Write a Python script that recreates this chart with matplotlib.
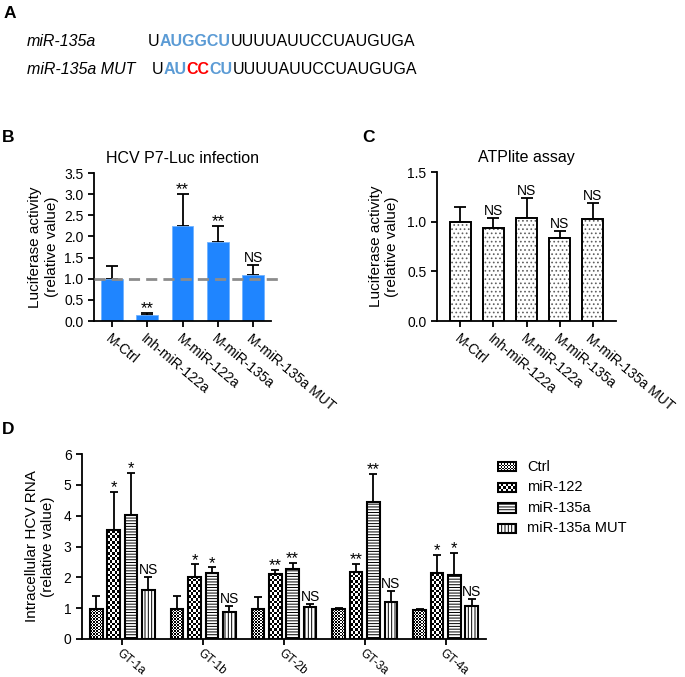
import numpy as np
import matplotlib
matplotlib.use("Agg")
import matplotlib.pyplot as plt
from matplotlib.patches import Rectangle

plt.rcParams["font.family"] = ["Liberation Sans", "DejaVu Sans"]
plt.rcParams["hatch.linewidth"] = 0.7

# ---- data ----
# Panel A: sequences, split into coloured pieces
seq_names = ["miR-135a", "miR-135a MUT"]
seq_pieces = [
    [("U", "plain"), ("AUGGCU", "seed"), ("UUUUAUUCCUAUGUGA", "plain")],
    [("U", "plain"), ("AU", "seed"), ("CC", "mut"), ("CU", "seed"),
     ("UUUUAUUCCUAUGUGA", "plain")],
]

# Panel B: HCV P7-Luc infection
b_labels = ["M-Ctrl", "Inh-miR-122a", "M-miR-122a", "M-miR-135a", "M-miR-135a MUT"]
b_means = [1.0, 0.14, 2.25, 1.88, 1.08]
b_err_top = [1.29, 0.20, 3.01, 2.25, 1.32]
b_sig = ["", "**", "**", "**", "NS"]
b_ref_line = 1.0

# Panel C: ATPlite assay
c_labels = b_labels
c_means = [1.0, 0.94, 1.04, 0.84, 1.03]
c_err_top = [1.15, 1.04, 1.24, 0.91, 1.19]
c_sig = ["", "NS", "NS", "NS", "NS"]

# Panel D: intracellular HCV RNA
d_groups = ["GT-1a", "GT-1b", "GT-2b", "GT-3a", "GT-4a"]
d_series = ["Ctrl", "miR-122", "miR-135a", "miR-135a MUT"]
d_ctrl = [0.96, 0.96, 0.96, 0.96, 0.95]
d_ctrl_err = [1.39, 1.40, 1.35, 1.00, 0.98]
d_mir122 = [3.53, 2.02, 2.12, 2.16, 2.13]
d_mir122_err = [4.77, 2.42, 2.24, 2.43, 2.72]
d_mir135a = [4.03, 2.15, 2.28, 4.43, 2.09]
d_mir135a_err = [5.39, 2.33, 2.47, 5.35, 2.79]
d_mut = [1.59, 0.89, 1.04, 1.19, 1.06]
d_mut_err = [2.02, 1.07, 1.14, 1.56, 1.29]
d_sig_ctrl = ["", "", "", "", ""]
d_sig_mir122 = ["*", "*", "**", "**", "*"]
d_sig_mir135a = ["*", "*", "**", "**", "*"]
d_sig_mut = ["NS", "NS", "NS", "NS", "NS"]

W, H = 685, 677
seq_colors = {"plain": "black", "seed": "#5b9bd5", "mut": "#ff0000"}
ROT = -40


def fig_rect(x0, y0, x1, y1):
    """Pixel box (top-left origin) -> figure fraction rect."""
    return [x0 / W, 1 - y1 / H, (x1 - x0) / W, (y1 - y0) / H]


def checker_fill(ax, rect, cell_px):
    """Fill a rectangle with a black/white checkerboard."""
    x0, y0 = rect.get_x(), rect.get_y()
    x1, y1 = x0 + rect.get_width(), y0 + rect.get_height()
    (px0, py0), (px1, py1) = ax.transData.transform([(x0, y0), (x1, y1)])
    nx = max(1, int(round(abs(px1 - px0) / cell_px)))
    ny = max(1, int(round(abs(py1 - py0) / cell_px)))
    grid = np.indices((ny, nx)).sum(axis=0) % 2
    ax.imshow(grid, cmap="gray_r", vmin=0, vmax=1, extent=(x0, x1, y0, y1),
              origin="lower", interpolation="nearest", aspect="auto", zorder=2)


def style_axes(ax):
    for s in ["top", "right"]:
        ax.spines[s].set_visible(False)
    for s in ["left", "bottom"]:
        ax.spines[s].set_linewidth(1.3)
    ax.tick_params(width=1.3, length=4, labelsize=10)


def add_sig(ax, x, tops, sigs):
    for xi, top, s in zip(x, tops, sigs):
        if not s:
            continue
        if "*" in s:
            ax.annotate(s, (xi, top), xytext=(0, -2.5), textcoords="offset points",
                        ha="center", va="bottom", fontsize=12)
        else:
            ax.annotate(s, (xi, top), xytext=(0, 0), textcoords="offset points",
                        ha="center", va="bottom", fontsize=10)


fig = plt.figure(figsize=(W / 100, H / 100), dpi=100)

# ---- panel A ----
ax_a = fig.add_axes([0, 0, 1, 1])
ax_a.axis("off")
ax_a.set_xlim(0, W)
ax_a.set_ylim(H, 0)
for lab, x, y in [("A", 4, 13), ("B", 2, 138), ("C", 362, 138), ("D", 2, 430)]:
    ax_a.text(x, y, lab, fontsize=12.5, fontweight="bold", va="center")

seq_x = [148, 152]
seq_y = [49, 77]
for name, pieces, sx, sy in zip(seq_names, seq_pieces, seq_x, seq_y):
    ax_a.text(27, sy, name, fontsize=11.5, style="italic", va="bottom")
    prev = None
    for txt, role in pieces:
        weight = "normal" if role == "plain" else "bold"
        if prev is None:
            prev = ax_a.text(sx, sy, txt, fontsize=11.5, color=seq_colors[role],
                             fontweight=weight, va="bottom")
        else:
            prev = ax_a.annotate(txt, xy=(1, 0), xycoords=prev, fontsize=11.5,
                                 color=seq_colors[role], fontweight=weight,
                                 ha="left", va="bottom")

# ---- panel B ----
ax_b = fig.add_axes(fig_rect(94, 173, 271, 321))
xb = np.arange(len(b_labels))
ax_b.bar(xb, b_means, width=0.62, color="#1f85ff", edgecolor="#6fb2ff",
         linewidth=0.6, zorder=2)
ax_b.errorbar(xb, b_means, yerr=[np.zeros(len(xb)), np.array(b_err_top) - b_means],
              fmt="none", ecolor="black", elinewidth=1.3, capsize=4.5,
              capthick=1.3, zorder=1)
ax_b.axhline(b_ref_line, xmin=0, xmax=1.06, color="#8c8c8c", lw=2,
             ls=(0, (4, 2.2)), clip_on=False, zorder=3)
add_sig(ax_b, xb, b_err_top, b_sig)
ax_b.set_xlim(-0.5, 4.5)
ax_b.set_ylim(0, 3.5)
ax_b.set_yticks(np.arange(0, 3.51, 0.5))
ax_b.set_yticklabels([f"{v:.1f}" for v in np.arange(0, 3.51, 0.5)])
ax_b.set_xticks(xb)
ax_b.set_xticklabels(b_labels, rotation=ROT, ha="left", va="top",
                     rotation_mode="anchor")
ax_b.set_ylabel("Luciferase activity\n(relative value)", fontsize=11, labelpad=4)
ax_b.set_title("HCV P7-Luc infection", fontsize=11.5, pad=7)
style_axes(ax_b)

# ---- panel C ----
ax_c = fig.add_axes(fig_rect(437, 172, 616, 321))
xc = np.arange(len(c_labels))
ax_c.bar(xc, c_means, width=0.64, facecolor="white", edgecolor="#606060",
         linewidth=0, hatch="....", zorder=2)
ax_c.bar(xc, c_means, width=0.64, facecolor="none", edgecolor="black",
         linewidth=1.4, zorder=2)
ax_c.errorbar(xc, c_means, yerr=[np.zeros(len(xc)), np.array(c_err_top) - c_means],
              fmt="none", ecolor="black", elinewidth=1.3, capsize=4.5,
              capthick=1.3, zorder=1)
add_sig(ax_c, xc, c_err_top, c_sig)
ax_c.set_xlim(-0.71, 4.71)
ax_c.set_ylim(0, 1.5)
ax_c.set_yticks(np.arange(0, 1.51, 0.5))
ax_c.set_yticklabels([f"{v:.1f}" for v in np.arange(0, 1.51, 0.5)])
ax_c.set_xticks(xc)
ax_c.set_xticklabels(c_labels, rotation=ROT, ha="left", va="top",
                     rotation_mode="anchor")
ax_c.set_ylabel("Luciferase activity\n(relative value)", fontsize=11, labelpad=6)
ax_c.set_title("ATPlite assay", fontsize=11.5, pad=7)
style_axes(ax_c)

# ---- panel D ----
ax_d = fig.add_axes(fig_rect(82, 454, 486, 639))
ax_d.set_xlim(-0.5, 4.5)
ax_d.set_ylim(0, 6)
xd = np.arange(len(d_groups))
d_vals = [d_ctrl, d_mir122, d_mir135a, d_mut]
d_errs = [d_ctrl_err, d_mir122_err, d_mir135a_err, d_mut_err]
d_sigs = [d_sig_ctrl, d_sig_mir122, d_sig_mir135a, d_sig_mut]
# fill style per series: (kind, param)
d_fill = [("checker", 1.5), ("checker", 2.7), ("hatch", "------"), ("hatch", "|||||")]
bw, step = 0.155, 0.215

for i, (vals, errs, sigs, (kind, par)) in enumerate(zip(d_vals, d_errs, d_sigs, d_fill)):
    xs = xd + (i - 1.5) * step
    if kind == "checker":
        bars = ax_d.bar(xs, vals, width=bw, facecolor="none", edgecolor="black",
                        linewidth=1.5, zorder=3)
        for r in bars:
            checker_fill(ax_d, r, par)
    else:
        ax_d.bar(xs, vals, width=bw, facecolor="white", edgecolor="black",
                 linewidth=1.5, hatch=par, zorder=3)
    ax_d.errorbar(xs, vals, yerr=[np.zeros(len(xs)), np.array(errs) - vals],
                  fmt="none", ecolor="black", elinewidth=1.3, capsize=3,
                  capthick=1.3, zorder=1)
    add_sig(ax_d, xs, errs, sigs)

ax_d.set_xlim(-0.5, 4.5)
ax_d.set_ylim(0, 6)
ax_d.set_yticks(range(0, 7))
ax_d.set_xticks(xd)
ax_d.set_xticklabels(d_groups, rotation=ROT, ha="left", va="top",
                     rotation_mode="anchor")
ax_d.set_ylabel("Intracellular HCV RNA\n(relative value)", fontsize=11, labelpad=6)
style_axes(ax_d)
ax_d.tick_params(axis="x", labelsize=8.5, pad=1.5)

# legend for panel D, drawn with the same fills
ax_l = fig.add_axes(fig_rect(497, 455, 640, 540))
ax_l.set_xlim(0, 143)
ax_l.set_ylim(85, 0)
ax_l.axis("off")
for i, (name, (kind, par)) in enumerate(zip(d_series, d_fill)):
    yc = 12 + 20.5 * i
    if kind == "checker":
        r = Rectangle((1, yc - 4.5), 18, 9, facecolor="none", edgecolor="black",
                      linewidth=1.5, zorder=3)
        ax_l.add_patch(r)
        checker_fill(ax_l, r, par)
    else:
        ax_l.add_patch(Rectangle((1, yc - 4.5), 18, 9, facecolor="white",
                                 edgecolor="black", linewidth=1.5, hatch=par,
                                 zorder=3))
    ax_l.text(30, yc, name, fontsize=10.5, va="center")
ax_l.set_xlim(0, 143)
ax_l.set_ylim(85, 0)

fig.savefig("out.png", dpi=100)
